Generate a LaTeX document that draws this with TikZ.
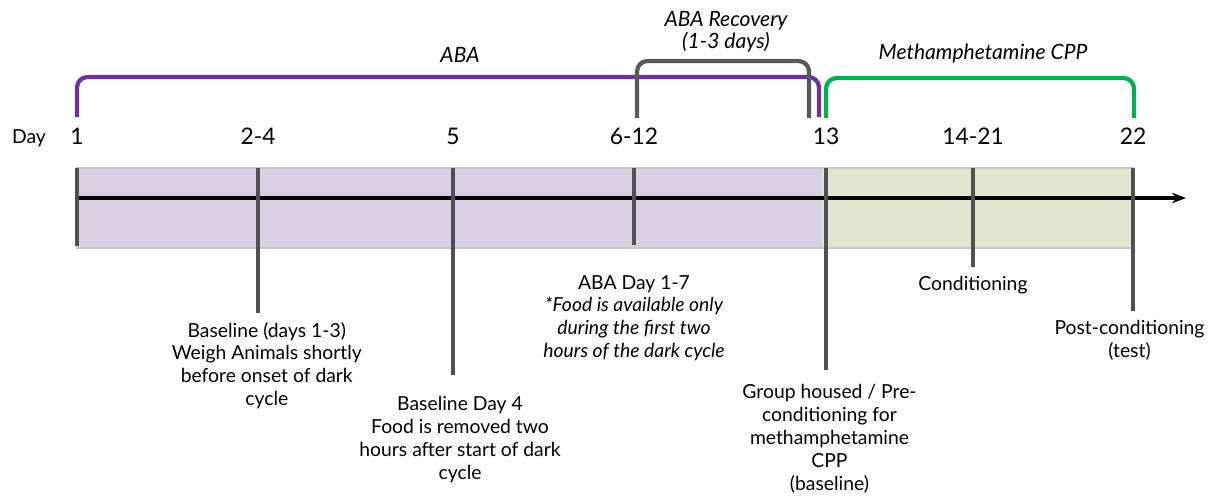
\documentclass[tikz,border=0pt]{standalone}
\usepackage{fontspec}
\setmainfont{Lato}
\usepackage{tikz}
\usepackage{xcolor}
\usetikzlibrary{arrows.meta,positioning}

\definecolor{abapurple}{HTML}{7030A0}
\definecolor{abafill}{HTML}{D9CFE3}
\definecolor{cppgreen}{HTML}{00B050}
\definecolor{cppfill}{HTML}{DEE6D2}
\definecolor{recgray}{HTML}{595959}
\definecolor{tickgray}{HTML}{505050}

\tikzset{
	tick/.style={line width=2.4pt, tickgray},
	bracket/.style={line width=2.4pt, rounded corners=6pt},
	daynum/.style={font=\fontsize{13}{14}\selectfont, inner sep=1pt, anchor=base},
	phase/.style={font=\fontsize{12}{12.5}\selectfont\itshape, align=center, inner sep=1pt},
	note/.style={font=\fontsize{11}{13}\selectfont, align=center, inner sep=1pt},
}

\begin{document}
\begin{tikzpicture}[x=0.02cm, y=-0.02cm]
	\useasboundingbox (0,0) rectangle (1212,495);
	% shaded phases
	\fill[abafill] (77,168) rectangle (822,248);
	\fill[cppfill] (822,168) rectangle (1133,248);
	\draw[black!22, line width=0.8pt] (77,168) rectangle (1133,248);
	% time axis
	\coordinate (axstart) at (77,198);
	\coordinate (axend) at (1186,198);
	\draw[-{Stealth[length=8pt,width=6pt]}, line width=2pt] (axstart) -- (axend);
	% ticks and day numbers
	\foreach \x/\bot/\name/\lbl in {77/246/a/1, 258/313/b/2-4, 453/375/c/5, 634/245/d/6-12, 826/370/e/13, 973/267/f/14-21, 1133/311/g/22}
	{
		\draw[tick] (\x,168) coordinate (t\name) -- (\x,\bot) coordinate (b\name);
		\node[daynum] (n\name) at (\x,144) {\lbl};
	}
	\node[daynum, font=\fontsize{11}{13}\selectfont] (day) at (29,143) {Day};
	% phase brackets
	\draw[bracket, abapurple] (77,117) -- (77,77) -- (819,77) -- (819,117);
	\draw[bracket, recgray] (637,118) -- (637,61) -- (809,61) -- (809,118);
	\draw[bracket, cppgreen] (826,118) -- (826,78) -- (1134,78) -- (1134,118);
	\node[phase] (aba) at (460,55) {ABA};
	\node[phase] (abarec) at (726,32) {ABA Recovery\\(1-3 days)};
	\node[phase] (cpp) at (983,54) {Methamphetamine CPP};
	% notes below the ticks
	\node[note, below=4pt of bb, xshift=5pt] (baseline) {Baseline (days 1-3)\\Weigh Animals shortly\\before onset of dark\\cycle};
	\node[note, below=11pt of bc, xshift=4pt] (baseday) {Baseline Day 4\\Food is removed two\\hours after start of dark\\cycle};
	\node[note, below=16pt of bd] (abaday) {ABA Day 1-7\\\itshape *Food is available only\\\itshape during the first two\\\itshape hours of the dark cycle};
	\node[note, below=7pt of be, xshift=2pt] (grouped) {Group housed / Pre-\\conditioning for\\methamphetamine\\CPP\\(baseline)};
	\node[note, below=4pt of bf] (cond) {Conditioning};
	\node[note, below=4pt of bg, xshift=-2pt] (post) {Post-conditioning\\(test)};
\end{tikzpicture}
\end{document}
